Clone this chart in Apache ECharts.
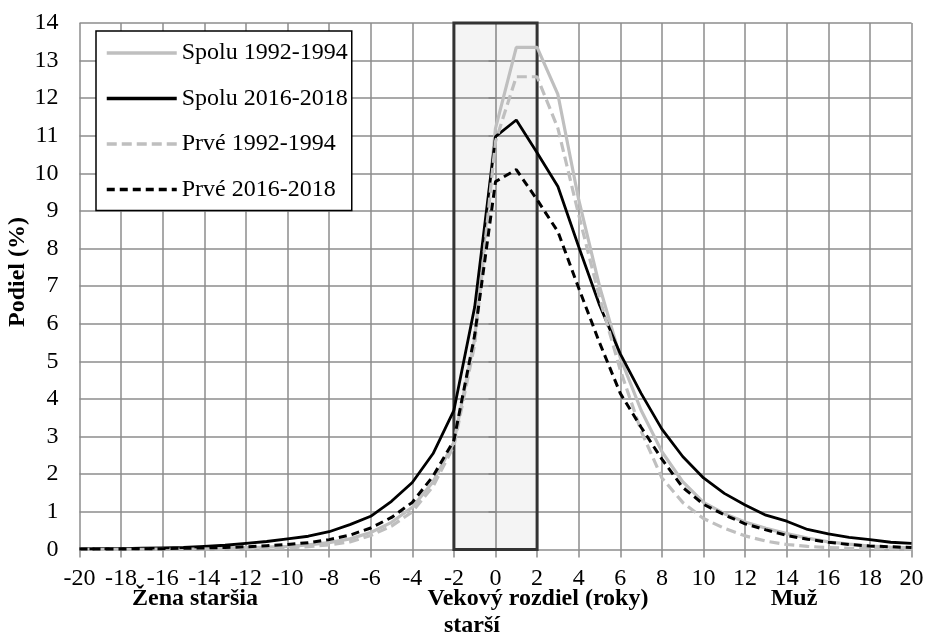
<!DOCTYPE html>
<html>
<head>
<meta charset="utf-8">
<script src="https://cdn.jsdelivr.net/npm/echarts@6/dist/echarts.min.js"></script>
<style>
html,body{margin:0;padding:0;background:#fff}
#chart{width:927px;height:636px}
</style>
</head>
<body>
<div id="chart"></div>
<script>
// vekovy rozdiel (roky)
var roky = [-20,-19,-18,-17,-16,-15,-14,-13,-12,-11,-10,-9,-8,-7,-6,-5,-4,-3,-2,-1,0,1,2,3,4,5,6,7,8,9,10,11,12,13,14,15,16,17,18,19,20];

// podiel (%)
var spolu9294 = [0.01,0.01,0.01,0.01,0.02,0.02,0.03,0.04,0.05,0.06,0.08,0.12,0.18,0.28,0.45,0.72,1.12,1.8,2.85,5.6,11.2,13.35,13.35,12.1,9.3,7.0,5.1,3.7,2.6,1.8,1.25,0.95,0.73,0.56,0.42,0.3,0.2,0.14,0.09,0.06,0.04];
var spolu1618 = [0.01,0.02,0.02,0.03,0.04,0.05,0.08,0.11,0.16,0.21,0.28,0.35,0.47,0.66,0.88,1.28,1.78,2.55,3.7,6.45,10.98,11.42,10.55,9.65,8.05,6.5,5.2,4.15,3.2,2.47,1.9,1.49,1.18,0.91,0.75,0.53,0.41,0.32,0.26,0.19,0.16];
var prve9294 = [0,0,0,0,0.01,0.01,0.01,0.01,0.02,0.03,0.04,0.07,0.12,0.2,0.37,0.62,1.0,1.68,2.75,5.45,10.85,12.57,12.57,11.2,8.9,6.7,4.77,3.15,1.9,1.25,0.82,0.56,0.36,0.22,0.13,0.08,0.05,0.03,0.02,0.02,0.01];
var prve1618 = [0.01,0.01,0.01,0.02,0.02,0.03,0.04,0.05,0.07,0.1,0.13,0.18,0.26,0.38,0.57,0.85,1.25,1.95,2.9,5.7,9.78,10.1,9.3,8.45,6.95,5.5,4.15,3.25,2.4,1.65,1.2,0.92,0.68,0.52,0.37,0.27,0.19,0.13,0.09,0.07,0.05];

var nazvy = ['Spolu 1992-1994','Spolu 2016-2018','Prvé 1992-1994','Prvé 2016-2018'];
var stlpec = [-2, 2]; // zvyrazneny interval

var font = "'Liberation Serif','Times New Roman',serif";
var mriezka = '#8c8c8c';

function body(arr){
	var out = [];
	for(var i=0;i<roky.length;i++){
		out.push([roky[i], arr[i]]);
	}
	return out;
}

function popis(text, x, y, rot){
	return {
		type: 'text',
		position: [x, y],
		rotation: rot || 0,
		style: {text: text, font: 'bold 24px ' + font, fill: '#000', textAlign: 'center', textVerticalAlign: 'middle'}
	};
}

var chart = echarts.init(document.getElementById('chart'));

var option = {
	backgroundColor: '#fff',
	animation: false,
	grid: {
		left: 79.5,
		right: 15.5,
		top: 23,
		bottom: 86.6
	},
	legend: {
		orient: 'vertical',
		left: 96,
		top: 31,
		padding: [10, 4, 9, 9],
		itemWidth: 70,
		itemHeight: 24,
		itemGap: 21.5,
		borderColor: '#000',
		borderWidth: 1.5,
		borderRadius: 0,
		backgroundColor: '#fff',
		itemStyle: {opacity: 0},
		lineStyle: {width: 3.5},
		textStyle: {fontFamily: font, fontSize: 24, color: '#000'},
		data: nazvy
	},
	xAxis: {
		type: 'value',
		min: -20,
		max: 20,
		interval: 2,
		axisLine: {show: false},
		axisTick: {show: true, length: 8, lineStyle: {color: mriezka, width: 1.5}},
		axisLabel: {fontFamily: font, fontSize: 24, color: '#000', margin: 17},
		splitLine: {show: true, lineStyle: {color: mriezka, width: 1.5}}
	},
	yAxis: {
		type: 'value',
		min: 0,
		max: 14,
		interval: 1,
		axisLine: {show: false},
		axisTick: {show: true, length: 7, lineStyle: {color: mriezka, width: 1.5}},
		axisLabel: {fontFamily: font, fontSize: 24, color: '#000', margin: 21},
		splitLine: {show: true, lineStyle: {color: mriezka, width: 1.5}}
	},
	graphic: [
		popis('Podiel (%)', 18, 272, Math.PI / 2),
		popis('Žena staršia', 195, 599),
		popis('Vekový rozdiel (roky)', 538, 599),
		popis('Muž', 794, 599),
		popis('starší', 472, 626)
	],
	series: [
		{
			name: nazvy[0],
			type: 'line',
			symbol: 'none',
			z: 3,
			lineStyle: {color: '#bfbfbf', width: 3.2},
			itemStyle: {color: '#bfbfbf'},
			data: body(spolu9294),
			markArea: {
				silent: true,
				z: 1,
				itemStyle: {color: 'rgba(0,0,0,0.045)', borderColor: '#333', borderWidth: 3},
				data: [[{xAxis: stlpec[0], yAxis: 0}, {xAxis: stlpec[1], yAxis: 14}]]
			}
		},
		{
			name: nazvy[1],
			type: 'line',
			symbol: 'none',
			z: 3,
			lineStyle: {color: '#000', width: 2.8},
			itemStyle: {color: '#000'},
			data: body(spolu1618)
		},
		{
			name: nazvy[2],
			type: 'line',
			symbol: 'none',
			z: 3,
			lineStyle: {color: '#bfbfbf', width: 3.2, type: [10, 5]},
			itemStyle: {color: '#bfbfbf'},
			data: body(prve9294)
		},
		{
			name: nazvy[3],
			type: 'line',
			symbol: 'none',
			z: 3,
			lineStyle: {color: '#000', width: 3, type: [8, 5]},
			itemStyle: {color: '#000'},
			data: body(prve1618)
		}
	]
};

chart.setOption(option, true);
</script>
</body>
</html>
